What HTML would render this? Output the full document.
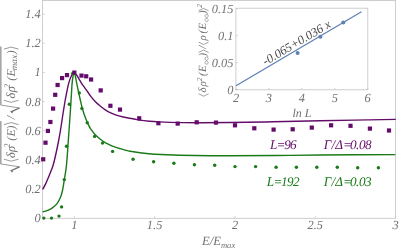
<!DOCTYPE html><html><head><meta charset="utf-8"><style>html,body{margin:0;padding:0;background:#fff}</style></head><body><svg width="399" height="249" viewBox="0 0 399 249" text-rendering="geometricPrecision" style="display:block;will-change:transform;font-family:'Liberation Serif',serif;font-style:italic">
<rect width="399" height="249" fill="#fff"/>
<rect x="42.6" y="0.4" width="353.0" height="217.9" fill="none" stroke="#c2c2c2" stroke-width="0.8"/>
<line x1="74.3" y1="218.3" x2="74.3" y2="216.10000000000002" stroke="#c2c2c2" stroke-width="0.7"/>
<text x="74.3" y="229.2" font-size="12.4" text-anchor="middle" fill="#707070">1</text>
<line x1="154.6" y1="218.3" x2="154.6" y2="216.10000000000002" stroke="#c2c2c2" stroke-width="0.7"/>
<text x="154.6" y="229.2" font-size="12.4" text-anchor="middle" fill="#707070">1.5</text>
<line x1="235.0" y1="218.3" x2="235.0" y2="216.10000000000002" stroke="#c2c2c2" stroke-width="0.7"/>
<text x="235.0" y="229.2" font-size="12.4" text-anchor="middle" fill="#707070">2</text>
<line x1="315.3" y1="218.3" x2="315.3" y2="216.10000000000002" stroke="#c2c2c2" stroke-width="0.7"/>
<text x="315.3" y="229.2" font-size="12.4" text-anchor="middle" fill="#707070">2.5</text>
<line x1="395.7" y1="218.3" x2="395.7" y2="216.10000000000002" stroke="#c2c2c2" stroke-width="0.7"/>
<text x="395.7" y="229.2" font-size="12.4" text-anchor="middle" fill="#707070">3</text>
<line x1="42.6" y1="218.1" x2="44.800000000000004" y2="218.1" stroke="#c2c2c2" stroke-width="0.7"/>
<text x="40.7" y="222.0" font-size="12.4" text-anchor="end" fill="#707070">0</text>
<line x1="42.6" y1="189.0" x2="44.800000000000004" y2="189.0" stroke="#c2c2c2" stroke-width="0.7"/>
<text x="40.7" y="192.9" font-size="12.4" text-anchor="end" fill="#707070">0.2</text>
<line x1="42.6" y1="159.9" x2="44.800000000000004" y2="159.9" stroke="#c2c2c2" stroke-width="0.7"/>
<text x="40.7" y="163.8" font-size="12.4" text-anchor="end" fill="#707070">0.4</text>
<line x1="42.6" y1="130.7" x2="44.800000000000004" y2="130.7" stroke="#c2c2c2" stroke-width="0.7"/>
<text x="40.7" y="134.6" font-size="12.4" text-anchor="end" fill="#707070">0.6</text>
<line x1="42.6" y1="101.6" x2="44.800000000000004" y2="101.6" stroke="#c2c2c2" stroke-width="0.7"/>
<text x="40.7" y="105.5" font-size="12.4" text-anchor="end" fill="#707070">0.8</text>
<line x1="42.6" y1="72.5" x2="44.800000000000004" y2="72.5" stroke="#c2c2c2" stroke-width="0.7"/>
<text x="40.7" y="76.4" font-size="12.4" text-anchor="end" fill="#707070">1</text>
<line x1="42.6" y1="43.4" x2="44.800000000000004" y2="43.4" stroke="#c2c2c2" stroke-width="0.7"/>
<text x="40.7" y="47.3" font-size="12.4" text-anchor="end" fill="#707070">1.2</text>
<line x1="42.6" y1="14.3" x2="44.800000000000004" y2="14.3" stroke="#c2c2c2" stroke-width="0.7"/>
<text x="40.7" y="18.2" font-size="12.4" text-anchor="end" fill="#707070">1.4</text>
<text x="202" y="245.4" font-size="12.6" fill="#707070">E/E<tspan font-size="8.6" dy="2.4">max</tspan></text>
<path d="M42.60 189.30 C43.08 188.43 44.43 186.32 45.50 184.10 C46.57 181.88 48.08 178.18 49.00 176.00 C49.92 173.82 50.30 172.83 51.00 171.00 C51.70 169.17 52.33 168.08 53.20 165.00 C54.07 161.92 55.28 156.67 56.20 152.50 C57.12 148.33 57.95 144.25 58.75 140.00 C59.55 135.75 60.33 131.17 61.00 127.00 C61.67 122.83 62.15 119.17 62.80 115.00 C63.45 110.83 64.27 105.67 64.90 102.00 C65.53 98.33 66.08 95.65 66.60 93.00 C67.12 90.35 67.52 88.17 68.00 86.10 C68.48 84.03 68.98 82.20 69.50 80.60 C70.02 79.00 70.58 77.63 71.10 76.50 C71.62 75.37 72.07 74.47 72.60 73.80 C73.13 73.13 74.02 72.72 74.30 72.50 C74.68 72.92 75.80 73.90 76.60 75.00 C77.40 76.10 78.18 77.58 79.10 79.10 C80.02 80.62 81.10 82.57 82.10 84.10 C83.10 85.63 84.10 86.90 85.10 88.30 C86.10 89.70 87.15 91.15 88.10 92.50 C89.05 93.85 89.54 94.80 90.80 96.40 C92.06 98.00 94.03 100.45 95.65 102.10 C97.27 103.75 98.89 105.00 100.50 106.30 C102.11 107.60 103.70 108.85 105.30 109.90 C106.90 110.95 108.28 111.73 110.10 112.60 C111.92 113.47 114.18 114.40 116.20 115.10 C118.22 115.80 120.20 116.32 122.20 116.80 C124.20 117.28 126.22 117.63 128.20 118.00 C130.18 118.37 132.20 118.65 134.10 119.00 C136.00 119.35 137.07 119.73 139.60 120.10 C142.13 120.47 146.08 120.90 149.30 121.20 C152.52 121.50 155.43 121.70 158.90 121.90 C162.37 122.10 166.35 122.28 170.10 122.40 C173.85 122.52 176.42 122.55 181.40 122.60 C186.38 122.65 191.90 122.72 200.00 122.70 C208.10 122.68 217.83 122.65 230.00 122.50 C242.17 122.35 258.00 122.08 273.00 121.80 C288.00 121.52 299.53 121.20 320.00 120.80 C340.47 120.40 383.17 119.63 395.80 119.40" fill="none" stroke="#640c6a" stroke-width="1.4" stroke-linejoin="miter" stroke-miterlimit="3"/>
<path d="M42.60 211.90 C43.33 211.68 45.42 211.23 47.00 210.60 C48.58 209.97 50.37 209.27 52.05 208.10 C53.73 206.93 55.67 205.45 57.10 203.60 C58.53 201.75 59.68 199.27 60.60 197.00 C61.52 194.73 61.93 193.17 62.60 190.00 C63.27 186.83 63.95 182.17 64.60 178.00 C65.25 173.83 65.88 171.33 66.50 165.00 C67.12 158.67 67.75 148.33 68.35 140.00 C68.95 131.67 69.57 122.83 70.10 115.00 C70.62 107.17 71.20 97.82 71.50 93.00 C71.80 88.18 71.72 88.42 71.90 86.10 C72.08 83.78 72.35 81.07 72.60 79.10 C72.85 77.13 73.12 75.40 73.40 74.30 C73.68 73.20 74.15 72.80 74.30 72.50 C74.43 72.92 74.80 73.73 75.10 75.00 C75.40 76.27 75.73 78.25 76.10 80.10 C76.47 81.95 76.95 84.37 77.30 86.10 C77.65 87.83 77.70 88.18 78.20 90.50 C78.70 92.82 79.53 96.75 80.30 100.00 C81.07 103.25 81.93 107.00 82.80 110.00 C83.67 113.00 84.46 115.32 85.50 118.00 C86.54 120.68 88.05 124.10 89.05 126.10 C90.05 128.10 90.51 128.60 91.50 130.00 C92.49 131.40 93.58 133.00 95.00 134.50 C96.42 136.00 98.37 137.65 100.05 139.00 C101.73 140.35 103.42 141.58 105.10 142.60 C106.77 143.62 108.43 144.35 110.10 145.10 C111.77 145.85 113.42 146.50 115.10 147.10 C116.78 147.70 118.52 148.20 120.20 148.70 C121.88 149.20 123.55 149.67 125.20 150.10 C126.85 150.53 127.63 150.85 130.10 151.30 C132.57 151.75 135.85 152.30 140.00 152.80 C144.15 153.30 148.33 153.88 155.00 154.30 C161.67 154.72 167.50 155.05 180.00 155.30 C192.50 155.55 214.00 155.77 230.00 155.80 C246.00 155.83 261.00 155.63 276.00 155.50 C291.00 155.37 300.12 155.15 320.00 155.00 C339.88 154.85 382.75 154.67 395.30 154.60" fill="none" stroke="#1a7a1a" stroke-width="1.4" stroke-linejoin="miter" stroke-miterlimit="3"/>
<circle cx="43.8" cy="218.1" r="1.7" fill="#1a7a1a"/>
<circle cx="51.5" cy="218.1" r="1.7" fill="#1a7a1a"/>
<circle cx="59" cy="216.1" r="1.7" fill="#1a7a1a"/>
<circle cx="61.6" cy="206.9" r="1.7" fill="#1a7a1a"/>
<circle cx="64.3" cy="179.6" r="1.7" fill="#1a7a1a"/>
<circle cx="66.5" cy="146.2" r="1.7" fill="#1a7a1a"/>
<circle cx="69.3" cy="104.2" r="1.7" fill="#1a7a1a"/>
<circle cx="72.6" cy="73.6" r="1.7" fill="#1a7a1a"/>
<circle cx="79.3" cy="92.9" r="1.7" fill="#1a7a1a"/>
<circle cx="81.9" cy="108.5" r="1.7" fill="#1a7a1a"/>
<circle cx="87.25" cy="122.8" r="1.7" fill="#1a7a1a"/>
<circle cx="94.6" cy="136.4" r="1.7" fill="#1a7a1a"/>
<circle cx="102.5" cy="143.1" r="1.7" fill="#1a7a1a"/>
<circle cx="112.6" cy="151.4" r="1.7" fill="#1a7a1a"/>
<circle cx="133.1" cy="159.2" r="1.7" fill="#1a7a1a"/>
<circle cx="153.6" cy="161.8" r="1.7" fill="#1a7a1a"/>
<circle cx="173.9" cy="163.3" r="1.7" fill="#1a7a1a"/>
<circle cx="194.4" cy="164.8" r="1.7" fill="#1a7a1a"/>
<circle cx="214.7" cy="165.3" r="1.7" fill="#1a7a1a"/>
<circle cx="235" cy="166.6" r="1.7" fill="#1a7a1a"/>
<circle cx="255.6" cy="166.6" r="1.7" fill="#1a7a1a"/>
<circle cx="276.1" cy="167.3" r="1.7" fill="#1a7a1a"/>
<circle cx="296.4" cy="167.3" r="1.7" fill="#1a7a1a"/>
<circle cx="316.8" cy="167.3" r="1.7" fill="#1a7a1a"/>
<circle cx="337.3" cy="167.3" r="1.7" fill="#1a7a1a"/>
<circle cx="357.7" cy="167.8" r="1.7" fill="#1a7a1a"/>
<circle cx="378.4" cy="167.8" r="1.7" fill="#1a7a1a"/>
<rect x="41.1" y="157.2" width="4.2" height="4.2" fill="#640c6a"/>
<rect x="43.4" y="140.6" width="4.2" height="4.2" fill="#640c6a"/>
<rect x="45.8" y="128.8" width="4.2" height="4.2" fill="#640c6a"/>
<rect x="48.3" y="119.9" width="4.2" height="4.2" fill="#640c6a"/>
<rect x="51.0" y="106.5" width="4.2" height="4.2" fill="#640c6a"/>
<rect x="53.1" y="92.7" width="4.2" height="4.2" fill="#640c6a"/>
<rect x="55.5" y="82.9" width="4.2" height="4.2" fill="#640c6a"/>
<rect x="60.0" y="76.0" width="4.2" height="4.2" fill="#640c6a"/>
<rect x="64.9" y="73.0" width="4.2" height="4.2" fill="#640c6a"/>
<rect x="72.2" y="70.5" width="4.2" height="4.2" fill="#640c6a"/>
<rect x="79.4" y="73.5" width="4.2" height="4.2" fill="#640c6a"/>
<rect x="84.1" y="74.2" width="4.2" height="4.2" fill="#640c6a"/>
<rect x="89.0" y="77.4" width="4.2" height="4.2" fill="#640c6a"/>
<rect x="98.6" y="88.3" width="4.2" height="4.2" fill="#640c6a"/>
<rect x="108.3" y="103.7" width="4.2" height="4.2" fill="#640c6a"/>
<rect x="117.9" y="107.5" width="4.2" height="4.2" fill="#640c6a"/>
<rect x="137.1" y="116.2" width="4.2" height="4.2" fill="#640c6a"/>
<rect x="156.3" y="121.1" width="4.2" height="4.2" fill="#640c6a"/>
<rect x="175.6" y="121.5" width="4.2" height="4.2" fill="#640c6a"/>
<rect x="194.6" y="120.2" width="4.2" height="4.2" fill="#640c6a"/>
<rect x="213.9" y="120.5" width="4.2" height="4.2" fill="#640c6a"/>
<rect x="232.9" y="123.2" width="4.2" height="4.2" fill="#640c6a"/>
<rect x="252.2" y="126.2" width="4.2" height="4.2" fill="#640c6a"/>
<rect x="271.5" y="127.5" width="4.2" height="4.2" fill="#640c6a"/>
<rect x="290.6" y="127.2" width="4.2" height="4.2" fill="#640c6a"/>
<rect x="309.7" y="125.5" width="4.2" height="4.2" fill="#640c6a"/>
<rect x="329.0" y="123.2" width="4.2" height="4.2" fill="#640c6a"/>
<rect x="348.4" y="123.7" width="4.2" height="4.2" fill="#640c6a"/>
<rect x="367.8" y="126.5" width="4.2" height="4.2" fill="#640c6a"/>
<rect x="386.9" y="128.4" width="4.2" height="4.2" fill="#640c6a"/>
<text x="270.0 276.6 284.3 290.1" y="149.3" font-size="13.2" fill="#640c6a">L=96</text>
<text x="323.8 331.6 335.3 343.0 350.0 355.9 359.1 365.0" y="149.3" font-size="13.2" fill="#640c6a">Γ/Δ=0.08</text>
<text x="266.8 273.4 281.1 287.0 292.9" y="185.6" font-size="13.2" fill="#1a7a1a">L=192</text>
<text x="323.8 331.6 335.3 343.0 350.0 355.9 359.1 365.0" y="185.6" font-size="13.2" fill="#1a7a1a">Γ/Δ=0.03</text>
<rect x="235.9" y="8.2" width="131.9" height="81.6" fill="#fff" stroke="#c2c2c2" stroke-width="0.8"/>
<line x1="236.0" y1="89.8" x2="236.0" y2="87.8" stroke="#c2c2c2" stroke-width="0.7"/>
<text x="236.0" y="102.3" font-size="12.4" text-anchor="middle" fill="#707070">2</text>
<line x1="268.9" y1="89.8" x2="268.9" y2="87.8" stroke="#c2c2c2" stroke-width="0.7"/>
<text x="268.9" y="102.3" font-size="12.4" text-anchor="middle" fill="#707070">3</text>
<line x1="301.9" y1="89.8" x2="301.9" y2="87.8" stroke="#c2c2c2" stroke-width="0.7"/>
<text x="301.9" y="102.3" font-size="12.4" text-anchor="middle" fill="#707070">4</text>
<line x1="334.8" y1="89.8" x2="334.8" y2="87.8" stroke="#c2c2c2" stroke-width="0.7"/>
<text x="334.8" y="102.3" font-size="12.4" text-anchor="middle" fill="#707070">5</text>
<line x1="367.7" y1="89.8" x2="367.7" y2="87.8" stroke="#c2c2c2" stroke-width="0.7"/>
<text x="367.7" y="102.3" font-size="12.4" text-anchor="middle" fill="#707070">6</text>
<line x1="235.9" y1="89.6" x2="237.9" y2="89.6" stroke="#c2c2c2" stroke-width="0.7"/>
<text x="233.5" y="93.5" font-size="12.4" text-anchor="end" fill="#707070">0</text>
<line x1="235.9" y1="62.6" x2="237.9" y2="62.6" stroke="#c2c2c2" stroke-width="0.7"/>
<text x="233.5" y="66.5" font-size="12.4" text-anchor="end" fill="#707070">0.05</text>
<line x1="235.9" y1="35.6" x2="237.9" y2="35.6" stroke="#c2c2c2" stroke-width="0.7"/>
<text x="233.5" y="39.5" font-size="12.4" text-anchor="end" fill="#707070">0.1</text>
<line x1="235.9" y1="8.6" x2="237.9" y2="8.6" stroke="#c2c2c2" stroke-width="0.7"/>
<text x="233.5" y="12.5" font-size="12.4" text-anchor="end" fill="#707070">0.15</text>
<text x="302" y="117" font-size="12" text-anchor="middle" fill="#707070">ln L</text>
<line x1="236.0" y1="85.8" x2="361.5" y2="11.8" stroke="#5e81b5" stroke-width="1.3"/>
<circle cx="297.6" cy="52.9" r="2" fill="#5e81b5"/>
<circle cx="320.4" cy="36.7" r="2" fill="#5e81b5"/>
<circle cx="343.3" cy="22.5" r="2" fill="#5e81b5"/>
<text transform="translate(265.6,65.6) rotate(-30.6)" font-size="12.4" fill="#484848">-0.065+0.036 x</text>
<g transform="translate(206.2,97) rotate(-90)" font-size="11" fill="#707070"><path d="M3.2 -7.6 L0.8 -2.6 L3.2 2.4" fill="none" stroke="#707070" stroke-width="0.65"/><text x="4.6" y="0">δ</text><text x="10.6" y="0">ρ</text><text x="15.8" y="-4.6" font-size="7.5">2</text><text x="21" y="0">(</text><text x="24.9" y="0">E</text><path d="M36.40 0.4 C35.20 -1.80 32.80 -1.50 32.80 0.4 C32.80 2.30 35.20 2.60 36.40 0.4 C37.60 -1.80 40.00 -1.50 40.00 0.4 C40.00 2.30 37.60 2.60 36.40 0.4 Z" fill="none" stroke="#707070" stroke-width="0.6"/><text x="40.6" y="0">)</text><path d="M44.5 -7.6 L46.9 -2.6 L44.5 2.4" fill="none" stroke="#707070" stroke-width="0.65"/><text x="48.3" y="0">/</text><path d="M54.9 -7.6 L52.5 -2.6 L54.9 2.4" fill="none" stroke="#707070" stroke-width="0.65"/><text x="56.4" y="0">ρ</text><text x="63.6" y="0">(</text><text x="67.5" y="0">E</text><path d="M79.00 0.4 C77.80 -1.80 75.40 -1.50 75.40 0.4 C75.40 2.30 77.80 2.60 79.00 0.4 C80.20 -1.80 82.60 -1.50 82.60 0.4 C82.60 2.30 80.20 2.60 79.00 0.4 Z" fill="none" stroke="#707070" stroke-width="0.6"/><text x="82.9" y="0">)</text><path d="M86.2 -7.6 L88.6 -2.6 L86.2 2.4" fill="none" stroke="#707070" stroke-width="0.65"/><text x="89.2" y="-4.6" font-size="7.5">2</text></g>
<g transform="translate(14.5,174) rotate(-90)" font-size="12" fill="#707070"><path d="M2.0 -1.9 L3.3 -3.3 L7.1 5.0" fill="none" stroke="#707070" stroke-width="1.3" stroke-linejoin="miter"/><path d="M7.1 5.2 L10.0 -13.4" fill="none" stroke="#707070" stroke-width="0.7"/><line x1="9.8" y1="-13.7" x2="53" y2="-13.7" stroke="#a6a6a6" stroke-width="1.6"/><path d="M14.8 -10.6 L12.8 -3.3 L14.8 4" fill="none" stroke="#707070" stroke-width="0.7"/><text x="15.9" y="0" font-size="12.4">δ</text><text x="22" y="0" font-size="12.4">ρ</text><text x="26.3" y="-5" font-size="8.5">2</text><text x="33.2" y="0">(</text><text x="37.4" y="0">E</text><text x="44.6" y="0">)</text><path d="M49.4 -10.6 L51.4 -3.3 L49.4 4" fill="none" stroke="#707070" stroke-width="0.7"/><text x="54.8" y="0">/</text><path d="M60.9 -1.9 L62.2 -3.3 L66.0 5.0" fill="none" stroke="#707070" stroke-width="1.3" stroke-linejoin="miter"/><path d="M66.0 5.2 L68.9 -13.4" fill="none" stroke="#707070" stroke-width="0.7"/><line x1="68.7" y1="-13.7" x2="127.6" y2="-13.7" stroke="#a6a6a6" stroke-width="1.6"/><path d="M73.7 -10.6 L71.7 -3.3 L73.7 4" fill="none" stroke="#707070" stroke-width="0.7"/><text x="75.5" y="0" font-size="12.4">δ</text><text x="81.7" y="0" font-size="12.4">ρ</text><text x="85.8" y="-5" font-size="8.5">2</text><text x="93.3" y="0">(</text><text x="97.5" y="0">E</text><text x="103.8" y="2.4" font-size="9.1">max</text><text x="119.8" y="0">)</text><path d="M124.9 -10.6 L126.9 -3.3 L124.9 4" fill="none" stroke="#707070" stroke-width="0.7"/></g>
</svg></body></html>
